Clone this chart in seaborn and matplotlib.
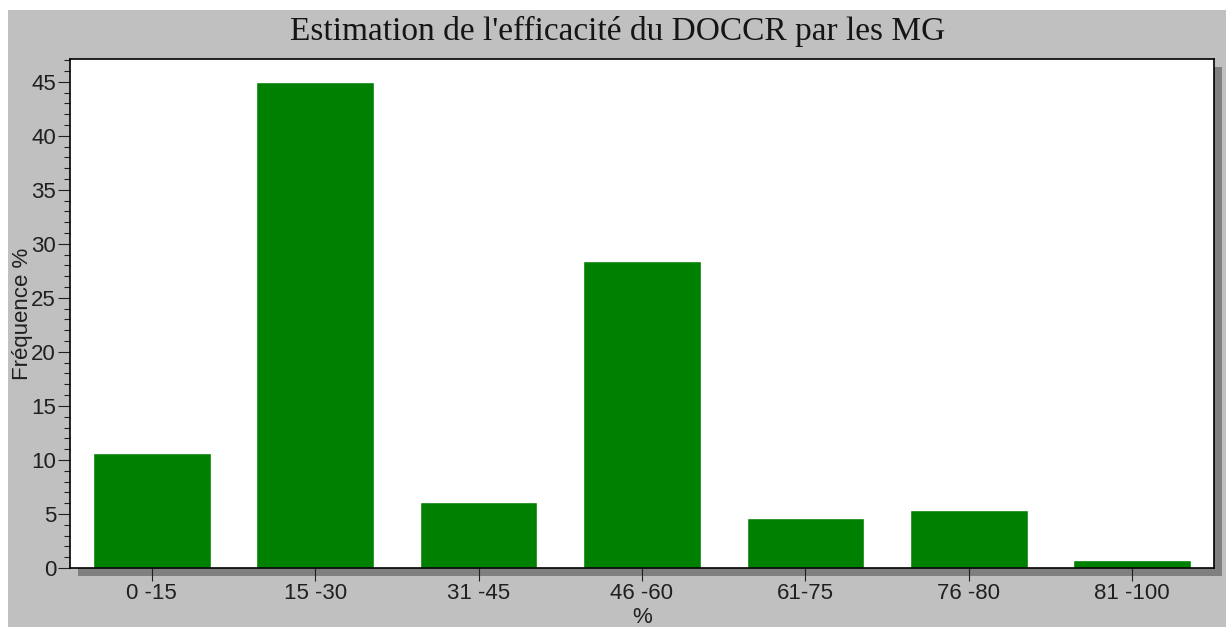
import matplotlib
matplotlib.use("Agg")
import matplotlib.pyplot as plt
from matplotlib.patches import Rectangle
from matplotlib.ticker import MultipleLocator
import seaborn as sns
import pandas as pd

categories = ["0 -15", "15 -30", "31 -45", "46 -60", "61-75", "76 -80", "81 -100"]
frequencies = [10.6, 45.0, 6.1, 28.4, 4.6, 5.4, 0.7]

title = "Estimation de l'efficacité du DOCCR par les MG"
xlabel = "%"
ylabel = "Fréquence %"

sns.set_style("white")
plt.rcParams['font.family'] = ['Liberation Sans', 'DejaVu Sans']

W, H = 1226, 627
fig = plt.figure(figsize=(W / 100, H / 100), dpi=100, facecolor="white")

# gray panel
fig.patches.append(Rectangle((8 / W, 0), (W - 8) / W, (H - 10) / H,
                             transform=fig.transFigure, facecolor="#c0c0c0",
                             edgecolor="none", zorder=-2))

left, right, top, bottom = 70, 1214, 59, 568
ax = fig.add_axes([left / W, 1 - bottom / H, (right - left) / W, (bottom - top) / H])
ax.set_zorder(5)

# shadow
off = 8
fig.patches.append(Rectangle(((left + off) / W, 1 - (bottom + off) / H),
                             (right - left) / W, (bottom - top) / H,
                             transform=fig.transFigure, facecolor="#808080",
                             edgecolor="none", zorder=-1))

df = pd.DataFrame({"cat": categories, "freq": frequencies})
sns.barplot(data=df, x="cat", y="freq", color="#008000", saturation=1,
            width=0.72, ax=ax, zorder=2)

ax.set_facecolor("white")
ax.set_xlim(-0.5, len(categories) - 0.5)
ax.set_ylim(0, 47.1)
ax.yaxis.set_major_locator(MultipleLocator(5))
ax.yaxis.set_minor_locator(MultipleLocator(1))

for s in ax.spines.values():
    s.set_color("black")
    s.set_linewidth(1.2)
    s.set_visible(True)

fs = 16
ax.tick_params(axis="y", which="major", direction="out", length=8.5, width=0.8,
               color="#202020", labelsize=fs, pad=1.5, labelcolor="#202020", left=True)
ax.tick_params(axis="y", which="minor", direction="out", length=4.5, width=0.8,
               color="#202020", left=True)
ax.tick_params(axis="x", which="major", direction="out", length=9.5, width=0.8,
               color="#202020", labelsize=fs, pad=1.5, labelcolor="#202020", bottom=True)

ax.set_xlabel(xlabel, fontsize=fs, color="#202020", labelpad=2)
ax.set_ylabel(ylabel, fontsize=fs, color="#202020", labelpad=-1)

fig.text(0.5 + 5 / W, 1 - 31 / H, title, ha="center", va="center",
         fontsize=24, family=["Liberation Serif", "DejaVu Serif"], color="#151515")

fig.savefig("out.png", dpi=100, facecolor=fig.get_facecolor())
